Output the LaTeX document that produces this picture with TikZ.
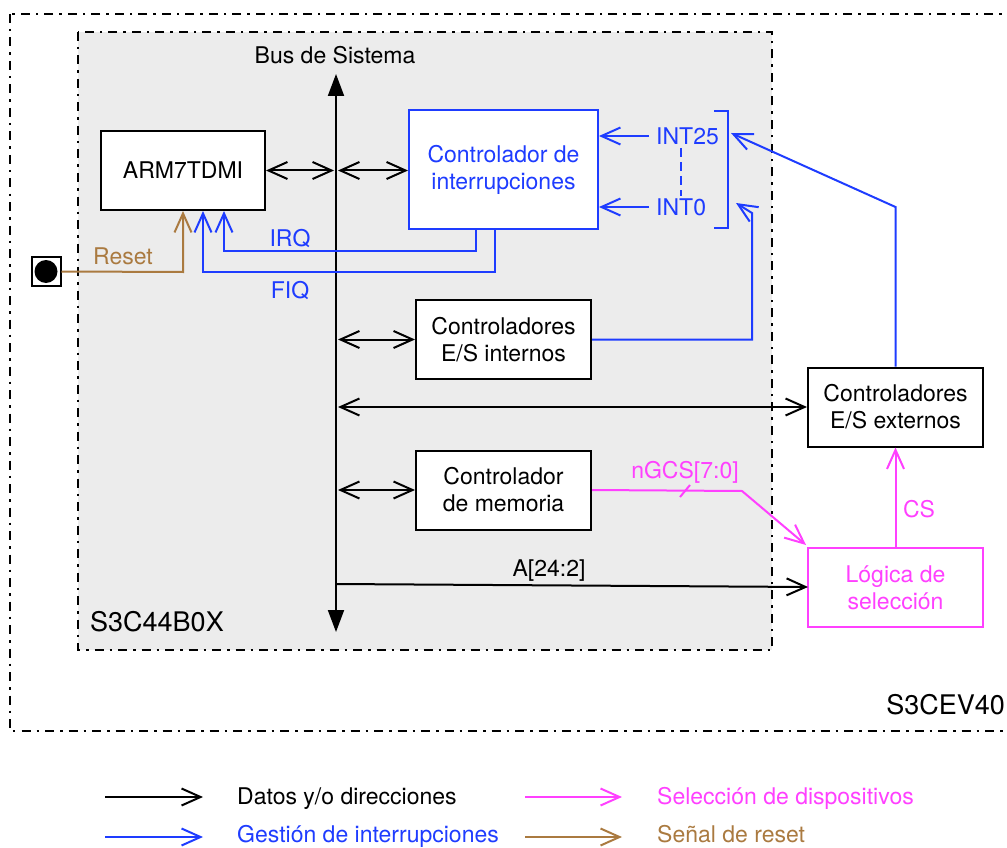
\documentclass[tikz,border=0pt]{standalone}
\usepackage{fontspec}
\setmainfont{TeX Gyre Heros}
\usetikzlibrary{arrows.meta}
\definecolor{intblue}{RGB}{30,60,255}
\definecolor{selpink}{RGB}{255,64,255}
\definecolor{rstbrown}{RGB}{170,122,64}
\definecolor{chipgray}{RGB}{236,236,236}
\begin{document}
\begin{tikzpicture}[x=1pt,y=-1pt,
  font=\fontsize{23}{27}\selectfont,
  every node/.style={inner sep=0pt},
  blk/.style={draw, line width=2pt, fill=white, align=center, minimum width=175pt, minimum height=79pt},
  wire/.style={line width=2pt},
  barb/.style={-{Straight Barb[length=19pt,width=17pt,line width=2pt]}},
  dbl/.style={wire,{Straight Barb[length=19pt,width=17pt,line width=2pt]}-{Straight Barb[length=19pt,width=17pt,line width=2pt]}},
  frame/.style={line width=2.2pt, dash pattern=on 9pt off 6pt on 2.5pt off 6pt},
  bigtxt/.style={font=\fontsize{27}{32}\selectfont},
  bwire/.style={wire, draw=intblue},
  pwire/.style={wire, draw=selpink},
  rwire/.style={wire, draw=rstbrown}
]
\useasboundingbox (0,0) rectangle (1007,848);
% frames
\draw[frame] (10,14) rectangle (1030,731);
\draw[frame, fill=chipgray] (78,32) rectangle (772,650);
% boxes
\node[blk, minimum width=164pt] (arm) at (183,170.5) {ARM7TDMI};
\node[blk, draw=intblue, text=intblue, minimum width=189pt, minimum height=119pt] (intc) at (503.5,169.5) {Controlador de\\interrupciones};
\node[blk] (ioint) at (503.5,339.5) {Controladores\\E/S internos};
\node[blk] (mem) at (503.5,490) {Controlador\\de memoria};
\node[blk] (ioext) at (895.5,407) {Controladores\\E/S externos};
\node[blk, draw=selpink, text=selpink] (sel) at (895.5,587.5) {Lógica de\\selección};
% bus
\coordinate (busT) at (336,74);
\coordinate (busB) at (336,632);
\draw[wire, {Triangle[length=22pt,width=16pt]}-{Triangle[length=22pt,width=16pt]}] (busT) -- (busB);
\node[anchor=mid] (buslbl) at (335,61) {Bus de Sistema};
% bus connections
\coordinate (bA) at (334,170.5);
\coordinate (bA2) at (338,170.5);
\draw[dbl] (arm.east) -- (bA);
\draw[dbl] (bA2) -- (intc.west |- bA2);
\coordinate (bI) at (338,339.5);
\draw[dbl] (bI) -- (ioint.west |- bI);
\coordinate (bE) at (338,407);
\draw[dbl] (bE) -- (ioext.west |- bE);
\coordinate (bM) at (338,490);
\draw[dbl] (bM) -- (mem.west |- bM);
\coordinate (bAd) at (336,584);
\coordinate (selA) at (808,587);
\draw[wire, barb] (bAd) -- (selA);
\node[anchor=mid] (alab) at (549,574) {A[24:2]};
% interrupt inputs
\node[anchor=mid west, text=intblue] (int25) at (656,142) {INT25};
\node[anchor=mid west, text=intblue] (int0) at (656,213) {INT0};
\coordinate (i25s) at (649,136);
\coordinate (i0s) at (649,207);
\draw[bwire, barb] (i25s) -- (intc.east |- i25s);
\draw[bwire, barb] (i0s) -- (intc.east |- i0s);
\coordinate (dA) at (681,148);
\coordinate (dB) at (681,196);
\draw[bwire, dash pattern=on 9pt off 5pt] (dA) -- (dB);
\coordinate (brT) at (714,111);
\coordinate (brB) at (714,228);
\draw[bwire] (brT) -- (728,111) -- (728,228) -- (brB);
% IRQ / FIQ
\coordinate (irq1) at (476,251);
\coordinate (irq2) at (224,251);
\draw[bwire, barb] (intc.south -| irq1) -- (irq1) -- (irq2) -- (arm.south -| irq2);
\coordinate (fiq1) at (495,272);
\coordinate (fiq2) at (203,272);
\draw[bwire, barb] (intc.south -| fiq1) -- (fiq1) -- (fiq2) -- (arm.south -| fiq2);
\node[anchor=mid, text=intblue] (irqlbl) at (290,244) {IRQ};
\node[anchor=mid, text=intblue] (fiqlbl) at (290,296) {FIQ};
% reset
\node[draw, line width=2pt, fill=white, minimum size=29pt] (rstbox) at (46,271.5) {};
\node[circle, fill=black, minimum size=23pt] (rstdot) at (rstbox.center) {};
\coordinate (rst1) at (183,272);
\draw[rwire, barb] (rstbox.east) -- (rst1) -- (arm.south -| rst1);
\node[anchor=mid, text=rstbrown] (rstlbl) at (123,262) {Reset};
% internal IO -> INT0
\coordinate (ii1) at (752,339.5);
\coordinate (ii2) at (752,213);
\coordinate (ii3) at (736,203);
\draw[bwire, barb] (ioint.east) -- (ii1) -- (ii2) -- (ii3);
% external IO -> INT25
\coordinate (ie1) at (895.5,207);
\coordinate (ie2) at (731,133);
\draw[bwire, barb] (ioext.north) -- (ie1) -- (ie2);
% nGCS
\coordinate (ng1) at (742,491);
\coordinate (ng2) at (806,545);
\draw[pwire, barb] (mem.east) -- (ng1) -- (ng2);
\coordinate (sl1) at (680,497);
\coordinate (sl2) at (690,485);
\draw[pwire] (sl1) -- (sl2);
\node[anchor=mid, text=selpink] (nglbl) at (685,476) {nGCS[7:0]};
% CS
\draw[pwire, barb] (sel.north) -- (ioext.south);
\node[anchor=mid, text=selpink] (cslbl) at (919,515) {CS};
% chip labels
\node[bigtxt, anchor=mid west] (chip) at (90,629) {S3C44B0X};
\node[bigtxt, anchor=mid east] (board) at (1005,712) {S3CEV40};
% legend
\coordinate (l1a) at (105,797); \coordinate (l1b) at (203,797);
\draw[wire, barb] (l1a) -- (l1b);
\node[anchor=mid west] (lg1) at (237,802) {Datos y/o direcciones};
\coordinate (l2a) at (525,797); \coordinate (l2b) at (622,797);
\draw[pwire, barb] (l2a) -- (l2b);
\node[anchor=mid west, text=selpink] (lg2) at (657,802) {Selección de dispositivos};
\coordinate (l3a) at (105,837); \coordinate (l3b) at (203,837);
\draw[bwire, barb] (l3a) -- (l3b);
\node[anchor=mid west, text=intblue] (lg3) at (237,840) {Gestión de interrupciones};
\coordinate (l4a) at (525,837); \coordinate (l4b) at (622,837);
\draw[rwire, barb] (l4a) -- (l4b);
\node[anchor=mid west, text=rstbrown] (lg4) at (657,840) {Señal de reset};
\end{tikzpicture}
\end{document}
